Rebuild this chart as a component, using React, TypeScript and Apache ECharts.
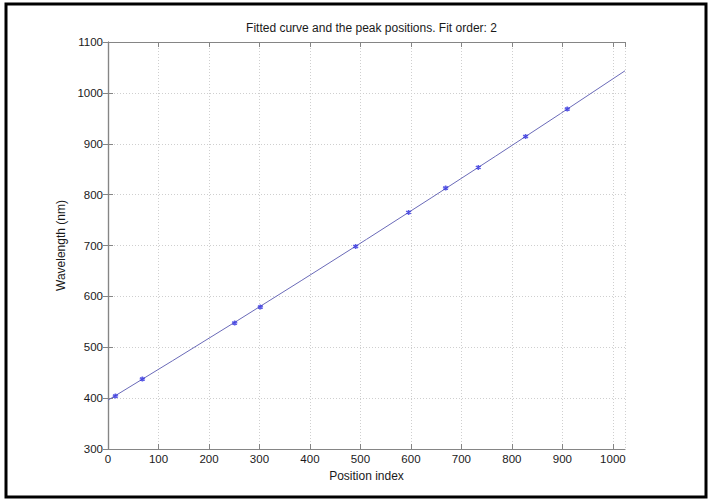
import React, { useEffect, useRef } from "react";
import * as echarts from "echarts";

const titleText = "Fitted curve and the peak positions. Fit order: 2";
const xAxisName = "Position index";
const yAxisName = "Wavelength (nm)";

// peak positions (x) and wavelengths (y)
const peakX = [14.7, 68.1, 250.9, 301.8, 490.5, 595.4, 668.7, 733.5, 827.1, 909.7];
const peakY = [404.2, 437.6, 547.7, 579.1, 698.2, 765.1, 813, 853.5, 914.4, 968.3];

// fitted curve
const curveX = [0, 128, 256, 384, 512, 640, 768, 896, 1024];
const curveY = [396, 473.6, 552.1, 631.7, 712.1, 793.5, 875.8, 959.1, 1043.4];

const FONT = "'Liberation Sans', Arial, Helvetica, sans-serif";
const AXIS_GRAY = "#858585";

export default function App() {
  const ref = useRef<HTMLDivElement>(null);
  useEffect(() => {
    if (!ref.current) return;
    const chart = echarts.init(ref.current, undefined, { renderer: "svg" });
    const gridStyle = { show: true, lineStyle: { color: "#cfcfcf", type: [1, 2] as any, width: 1 } };
    const fmt = (v: number) => String(v);
    const option: any = {
      animation: false,
      backgroundColor: "#ffffff",
      textStyle: { fontFamily: FONT },
      title: {
        text: titleText,
        left: 366.5,
        textAlign: "center",
        top: 17,
        textStyle: { fontSize: 12, fontWeight: "normal", color: "#1a1a1a", fontFamily: FONT },
      },
      grid: { left: 108, top: 42, width: 517, height: 407, containLabel: false },
      xAxis: [
        {
          type: "value",
          min: 0,
          max: 1024,
          interval: 100,
          position: "bottom",
          name: xAxisName,
          nameLocation: "middle",
          nameGap: 18,
          nameTextStyle: { fontSize: 12, color: "#1a1a1a", fontFamily: FONT },
          axisLine: { show: true, lineStyle: { color: AXIS_GRAY, width: 1.2 } },
          axisTick: { show: true, inside: true, length: 5, lineStyle: { color: AXIS_GRAY } },
          axisLabel: { show: true, margin: 4, fontSize: 11.5, color: "#1a1a1a", fontFamily: FONT, showMaxLabel: false, formatter: fmt },
          splitLine: gridStyle,
        },
        {
          type: "value",
          min: 0,
          max: 1024,
          interval: 100,
          position: "top",
          axisLine: { show: true, lineStyle: { color: AXIS_GRAY, width: 1.2 } },
          axisTick: { show: true, inside: true, length: 5, lineStyle: { color: AXIS_GRAY } },
          axisLabel: { show: false },
          splitLine: { show: false },
        },
      ],
      yAxis: [
        {
          type: "value",
          min: 300,
          max: 1100,
          interval: 100,
          position: "left",
          name: yAxisName,
          nameLocation: "middle",
          nameGap: 25,
          nameTextStyle: { fontSize: 12, color: "#1a1a1a", fontFamily: FONT },
          axisLine: { show: true, lineStyle: { color: AXIS_GRAY, width: 1.2 } },
          axisTick: { show: true, inside: true, length: 5, lineStyle: { color: AXIS_GRAY } },
          axisLabel: { show: true, margin: 5, fontSize: 11.5, color: "#1a1a1a", fontFamily: FONT, formatter: fmt },
          splitLine: gridStyle,
        },
        {
          type: "value",
          min: 300,
          max: 1100,
          interval: 100,
          position: "right",
          axisLine: { show: true, lineStyle: { color: AXIS_GRAY, width: 1.2 } },
          axisTick: { show: true, inside: true, length: 5, lineStyle: { color: AXIS_GRAY } },
          axisLabel: { show: false },
          splitLine: { show: false },
        },
      ],
      series: [
        {
          type: "line",
          data: curveX.map((x, i) => [x, curveY[i]]),
          showSymbol: false,
          symbol: "none",
          lineStyle: { color: "#6a6ab8", width: 1 },
          z: 2,
        },
        {
          type: "scatter",
          data: peakX.map((x, i) => [x, peakY[i]]),
          symbol: "path://M0,-5L0,5M-4.33,-2.5L4.33,2.5M-4.33,2.5L4.33,-2.5",
          symbolSize: 5,
          itemStyle: { color: "#3535e0", borderColor: "#3535e0", borderWidth: 1.6 },
          z: 3,
        },
      ],
      graphic: [
        {
          type: "rect",
          shape: { x: 6, y: 4, width: 700, height: 493 },
          style: { fill: "none", stroke: "#000000", lineWidth: 3 },
          silent: true,
        },
      ],
    };
    chart.setOption(option);
    return () => chart.dispose();
  }, []);
  return (
    <div
      ref={ref}
      style={{ position: "fixed", left: 0, top: 0, width: 711, height: 502, background: "#fff" }}
    />
  );
}
